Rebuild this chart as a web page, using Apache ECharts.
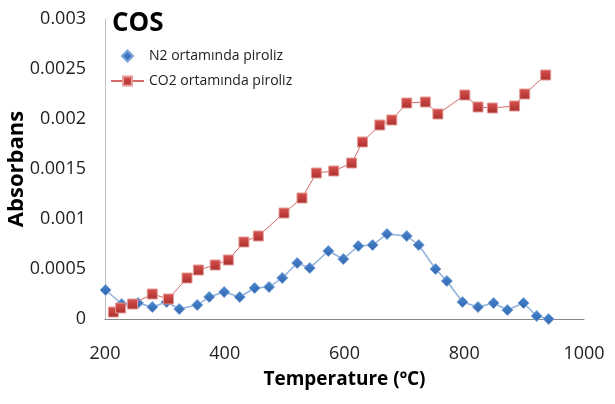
<!DOCTYPE html>
<html>
<head>
<meta charset="utf-8">
<script src="https://cdn.jsdelivr.net/npm/echarts@6/dist/echarts.min.js"></script>
<style>
  html, body { margin: 0; padding: 0; background: #fff; }
  #chart { width: 615px; height: 404px; }
</style>
</head>
<body>
<div id="chart"></div>
<script>
// COS absorbance vs. temperature for pyrolysis under N2 and CO2
const n2Temps = [201, 228, 255, 279, 303, 324, 354, 374, 399, 425, 450, 474, 496, 521, 542, 573, 598, 623, 647, 671, 704, 724, 752, 771, 797, 823, 849, 872, 899, 921, 941];
const n2Values = [0.00029, 0.00015, 0.00016, 0.00012, 0.00017, 0.00010, 0.00014, 0.00022, 0.00027, 0.00022, 0.00031, 0.00032, 0.00041, 0.00056, 0.00051, 0.00068, 0.00060, 0.00073, 0.00074, 0.00085, 0.00083, 0.00074, 0.00050, 0.00038, 0.00017, 0.00012, 0.00016, 0.00009, 0.00016, 0.00003, 0.0];

const co2Temps = [214, 226, 246, 279, 306, 337, 356, 384, 406, 432, 456, 499, 529, 553, 582, 612, 630, 659, 679, 704, 735, 756, 801, 823, 847, 884, 901, 936];
const co2Values = [0.00007, 0.00011, 0.00015, 0.00025, 0.00020, 0.00041, 0.00049, 0.00054, 0.00059, 0.00077, 0.00083, 0.00106, 0.00121, 0.00146, 0.00148, 0.00156, 0.00177, 0.00194, 0.00199, 0.00216, 0.00217, 0.00205, 0.00224, 0.00212, 0.00211, 0.00213, 0.00225, 0.00244];

const seriesNames = ['N2 ortamında piroliz', 'CO2 ortamında piroliz'];
const xTicks = ['200', '400', '600', '800', '1000'];
const yTicks = ['0', '0.0005', '0.001', '0.0015', '0.002', '0.0025', '0.003'];

const FONT = '"Open Sans", "Noto Sans", sans-serif';

function pairs(xs, ys) {
  return xs.map((x, i) => [x, ys[i]]);
}

const chart = echarts.init(document.getElementById('chart'), null, { renderer: 'canvas' });

chart.setOption({
  animation: false,
  backgroundColor: '#ffffff',
  title: {
    text: 'COS',
    left: 112,
    top: 11,
    padding: 0,
    textStyle: { fontFamily: FONT, fontWeight: 'bold', fontSize: 26, color: '#000' }
  },
  legend: {
    orient: 'vertical',
    left: 110,
    top: 49,
    padding: 0,
    itemWidth: 33,
    itemHeight: 11,
    itemGap: 11,
    symbolKeepAspect: true,
    textStyle: { fontFamily: FONT, fontSize: 14, color: '#222', lineHeight: 14 },
    data: [
      { name: seriesNames[0], icon: 'path://M5,0 L10,5 L5,10 L0,5 Z' },
      { name: seriesNames[1] }
    ]
  },
  grid: { left: 105, right: 31, top: 19, bottom: 85, containLabel: false, outerBoundsMode: 'none' },
  xAxis: {
    type: 'value',
    min: 200,
    max: 1000,
    interval: 200,
    name: 'Temperature (ºC)',
    nameLocation: 'middle',
    nameGap: 51,
    nameMoveOverlap: false,
    nameTextStyle: { fontFamily: FONT, fontWeight: 'bold', fontSize: 19, color: '#000' },
    axisLine: { show: true, lineStyle: { color: '#868686', width: 1 } },
    axisTick: { show: false },
    splitLine: { show: false },
    axisLabel: {
      fontFamily: FONT, fontSize: 18, color: '#222', margin: 26,
      formatter: (v) => xTicks[Math.round((v - 200) / 200)]
    }
  },
  yAxis: {
    type: 'value',
    min: 0,
    max: 0.003,
    interval: 0.0005,
    name: 'Absorbans',
    nameLocation: 'middle',
    nameRotate: 90,
    nameGap: 77,
    nameMoveOverlap: false,
    nameTextStyle: { fontFamily: FONT, fontWeight: 'bold', fontSize: 22, color: '#000' },
    axisLine: { show: true, lineStyle: { color: '#bfbfbf', width: 1 } },
    axisTick: { show: false },
    splitLine: { show: false },
    axisLabel: {
      fontFamily: FONT, fontSize: 18, color: '#222', margin: 19,
      formatter: (v) => yTicks[Math.round(v / 0.0005)]
    }
  },
  series: [
    {
      name: seriesNames[0],
      type: 'line',
      data: pairs(n2Temps, n2Values),
      symbol: 'diamond',
      symbolSize: 11,
      clip: false,
      lineStyle: { color: '#8fb0dc', width: 1.5 },
      itemStyle: {
        color: new echarts.graphic.LinearGradient(0, 0, 0, 1, [
          { offset: 0, color: '#4a86d0' },
          { offset: 1, color: '#2f66ad' }
        ]),
        borderColor: '#7aa3d8',
        borderWidth: 1
      },
      z: 2
    },
    {
      name: seriesNames[1],
      type: 'line',
      data: pairs(co2Temps, co2Values),
      symbol: 'rect',
      symbolSize: 10,
      clip: false,
      lineStyle: { color: '#d46a6a', width: 1 },
      itemStyle: {
        color: new echarts.graphic.LinearGradient(0, 0, 0, 1, [
          { offset: 0, color: '#d9534f' },
          { offset: 1, color: '#a92f2c' }
        ]),
        borderColor: '#e39a98',
        borderWidth: 1
      },
      z: 3
    }
  ]
});
</script>
</body>
</html>
